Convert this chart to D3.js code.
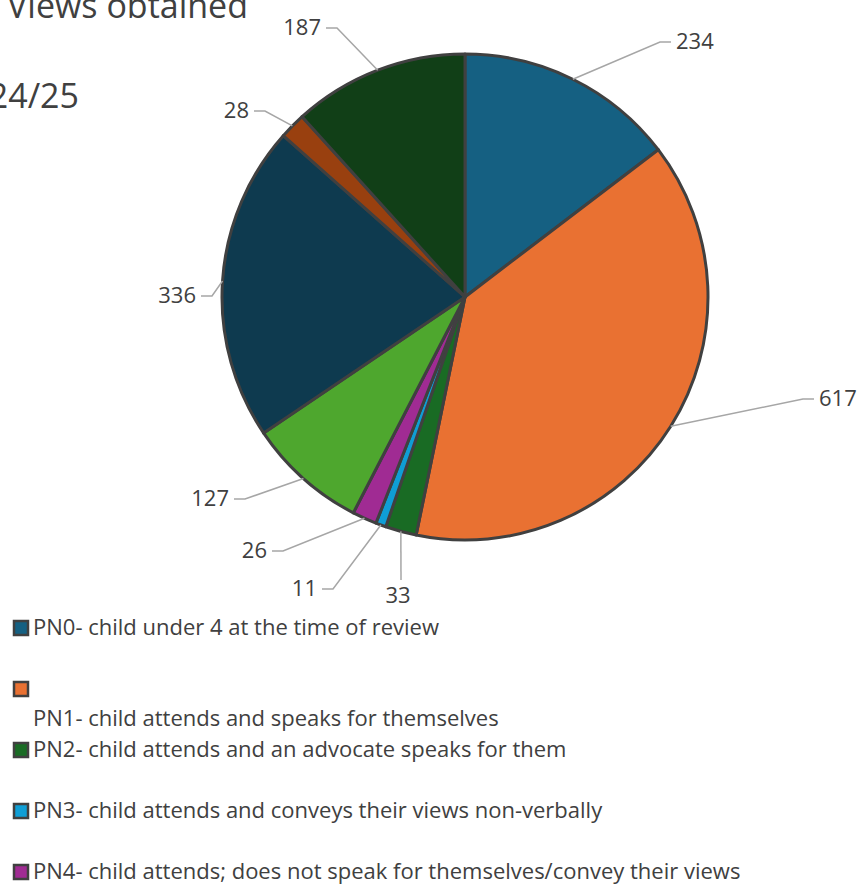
<!DOCTYPE html>
<html>
<head>
<meta charset="utf-8">
<script src="https://cdn.jsdelivr.net/npm/d3@7"></script>
<style>
  body { margin: 0; background: #fff; }
  text { font-family: "Open Sans", "Noto Sans", sans-serif; fill: #404040; }
</style>
</head>
<body>
<svg id="svg" width="859" height="884"></svg>
<script>
// chart values, clockwise from 12 o'clock
const values = [234, 617, 33, 11, 26, 127, 336, 28, 187];
const colors = ["#156082", "#E97132", "#196B24", "#0F9ED5", "#A02B93", "#4EA72E", "#0E3A4F", "#99400F", "#113F17"];
const legendLabels = [
  "PN0- child under 4 at the time of review",
  "PN1- child attends and speaks for themselves",
  "PN2- child attends and an advocate speaks for them",
  "PN3- child attends and conveys their views non-verbally",
  "PN4- child attends; does not speak for themselves/convey their views"
];
// label elbow points (relative to the pie centre), as placed in the original
const labelElbows = [[195, -255], [338, 102], [-64, 283], [-132, 292], [-182, 254], [-220, 202], [-253, -1], [-200, -186], [-128, -269]];

const width = 859, height = 884;
const cx = 465, cy = 297, radius = 243;

const svg = d3.select("#svg");

// title (cut off by the chart area)
svg.append("text").attr("x", 248).attr("y", 18).attr("text-anchor", "end")
  .style("font-size", "34px").text("Views obtained");
svg.append("text").attr("x", 79).attr("y", 108).attr("text-anchor", "end")
  .style("font-size", "34px").text("2024/25");

const pie = d3.pie().sort(null).value(d => d);
const arcs = pie(values);
const arc = d3.arc().innerRadius(0).outerRadius(radius);

const g = svg.append("g").attr("transform", `translate(${cx},${cy})`);

g.selectAll("path.slice")
  .data(arcs)
  .join("path")
  .attr("class", "slice")
  .attr("d", arc)
  .attr("fill", (d, i) => colors[i])
  .attr("stroke", "#404040")
  .attr("stroke-width", 3)
  .attr("stroke-linejoin", "round");

// leader lines + data labels
arcs.forEach((d, i) => {
  const a = (d.startAngle + d.endAngle) / 2;
  const p0 = [radius * Math.sin(a), -radius * Math.cos(a)];
  const e = labelElbows[i];
  const right = e[0] > p0[0] + 20;
  const vertical = Math.abs(e[0] - p0[0]) < 10;
  let pts, tx, ty, anchor;
  if (vertical) {
    pts = [p0, e];
    tx = e[0] - 3; ty = e[1] + 23; anchor = "middle";
  } else {
    const e2 = [e[0] + (right ? 11 : -11), e[1]];
    pts = [p0, e, e2];
    tx = e2[0] + (right ? 5 : -5); ty = e[1] + 7; anchor = right ? "start" : "end";
  }
  g.append("path")
    .attr("d", d3.line()(pts))
    .attr("fill", "none")
    .attr("stroke", "#A6A6A6")
    .attr("stroke-width", 1.5);
  g.append("text")
    .attr("x", tx).attr("y", ty)
    .attr("text-anchor", anchor)
    .style("font-size", "22px")
    .text(values[i]);
});

// legend
const legend = svg.append("g");
legendLabels.forEach((label, i) => {
  const y = 628 + 61 * i;
  legend.append("rect")
    .attr("x", 14).attr("y", y - 7).attr("width", 14).attr("height", 14)
    .attr("fill", colors[i]).attr("stroke", "#404040").attr("stroke-width", 2.5);
  legend.append("text")
    .attr("x", 33).attr("y", (i === 1 ? y + 30 : y) + 7)
    .style("font-size", "22px")
    .text(label);
});
</script>
</body>
</html>
